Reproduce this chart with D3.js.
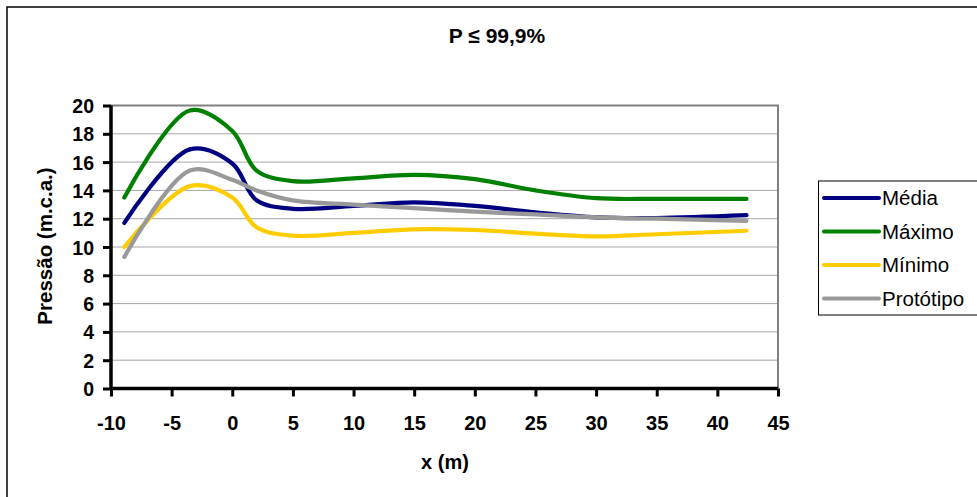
<!DOCTYPE html>
<html><head><meta charset="utf-8">
<script src="https://cdn.jsdelivr.net/npm/d3@7"></script>
<style>body{margin:0;background:#fff}svg{display:block;font-family:Arial,"Liberation Sans",sans-serif}</style>
</head><body><svg id="c" width="977" height="497"></svg>
<script>
const title = "P \u2264 99,9%";
const xLabel = "x (m)";
const yLabel = "Pressão (m.c.a.)";
const xPos = [-8.9, -3.5, 0, 2, 5, 10, 15, 20, 25, 30, 35, 42.4];
const media     = [11.7, 16.9, 15.9, 13.3, 12.7, 12.9, 13.15, 12.9, 12.45, 12.1, 12.05, 12.25];
const maximo    = [13.5, 19.65, 18.2, 15.4, 14.65, 14.85, 15.1, 14.8, 14.0, 13.45, 13.4, 13.4];
const minimo    = [10.0, 14.3, 13.5, 11.4, 10.8, 11.0, 11.25, 11.2, 10.95, 10.75, 10.9, 11.15];
const prototipo = [9.3, 15.4, 14.75, 14.0, 13.3, 13.0, 12.75, 12.5, 12.3, 12.1, 12.0, 11.85];
const seriesNames = ["Média", "Máximo", "Mínimo", "Protótipo"];
const seriesColors = ["#000080", "#008000", "#FFCC00", "#999999"];
const xTicks = [-10, -5, 0, 5, 10, 15, 20, 25, 30, 35, 40, 45];
const yTicks = [0, 2, 4, 6, 8, 10, 12, 14, 16, 18, 20];

const seriesData = [media, maximo, minimo, prototipo];
const svg = d3.select("#c");
const L = 111, R = 778, T = 105.5, B = 388.5;
const x = d3.scaleLinear().domain([-10, 45]).range([L, R]);
const y = d3.scaleLinear().domain([0, 20]).range([B, T]);
const fam = "Arial, 'Liberation Sans', sans-serif";
const fmt = d => String(d).replace("\u2212", "-");

// outer border
svg.append("rect").attr("x", 7).attr("y", 7).attr("width", 990).attr("height", 520)
  .attr("fill", "none").attr("stroke", "#000").attr("stroke-width", 1.5);

// gridlines
svg.append("g").selectAll("line").data(yTicks.filter(d => d > 0)).join("line")
  .attr("x1", L).attr("x2", R).attr("y1", d => y(d)).attr("y2", d => y(d))
  .attr("stroke", "#a6a6a6").attr("stroke-width", 1);
// plot area border (top/right)
svg.append("path").attr("d", `M${L},${T}H${R}V${B}`).attr("fill", "none")
  .attr("stroke", "#808080").attr("stroke-width", 2);

// axes
const yAxis = svg.append("g").attr("transform", `translate(${L},0)`)
  .call(d3.axisLeft(y).tickValues(yTicks).tickSize(8).tickPadding(9).tickFormat(fmt));
const xAxis = svg.append("g").attr("transform", `translate(0,${B})`)
  .call(d3.axisBottom(x).tickValues(xTicks).tickSize(8).tickPadding(19).tickFormat(fmt));
[yAxis, xAxis].forEach(a => {
  a.select(".domain").attr("stroke", "#000").attr("stroke-width", 3.5);
  a.selectAll(".tick line").attr("stroke", "#000").attr("stroke-width", 3);
  a.selectAll(".tick text").attr("fill", "#000").attr("font-size", 20).attr("font-weight", "bold")
    .attr("font-family", fam);
});
yAxis.selectAll(".tick text").attr("font-size", 19.5).attr("dy", "0.36em");
xAxis.select(".domain").attr("d", `M${L},0H${R}`);
yAxis.select(".domain").attr("d", `M0,${T}V${B}`);

// lines
const line = d3.line().x((d, i) => x(xPos[i])).y(d => y(d)).curve(d3.curveCatmullRom.alpha(0.5));
svg.append("g").selectAll("path").data(seriesData).join("path")
  .attr("d", d => line(d)).attr("fill", "none")
  .attr("stroke", (d, i) => seriesColors[i]).attr("stroke-width", 4.2)
  .attr("stroke-linecap", "round").attr("stroke-linejoin", "round");

// title & labels
svg.append("text").attr("x", 497).attr("y", 43).attr("text-anchor", "middle")
  .attr("font-size", 21).attr("font-weight", "bold").attr("font-family", fam).text(title);
svg.append("text").attr("x", 445).attr("y", 469).attr("text-anchor", "middle")
  .attr("font-size", 20).attr("font-weight", "bold").attr("font-family", fam).text(xLabel);
svg.append("text").attr("transform", "translate(52,246) rotate(-90)").attr("text-anchor", "middle")
  .attr("font-size", 20.5).attr("font-weight", "bold").attr("font-family", fam).text(yLabel);

// legend
const lg = svg.append("g");
lg.append("rect").attr("x", 818.5).attr("y", 181).attr("width", 170).attr("height", 134)
  .attr("fill", "#fff").attr("stroke", "#000").attr("stroke-width", 1);
seriesNames.forEach((n, i) => {
  const yy = 198 + i * 33.5;
  lg.append("line").attr("x1", 824).attr("x2", 879).attr("y1", yy).attr("y2", yy)
    .attr("stroke", seriesColors[i]).attr("stroke-width", 4).attr("stroke-linecap", "round");
  lg.append("text").attr("x", 882).attr("y", yy + 7).attr("font-size", 20.5)
    .attr("font-family", fam).text(n);
});
</script></body></html>
